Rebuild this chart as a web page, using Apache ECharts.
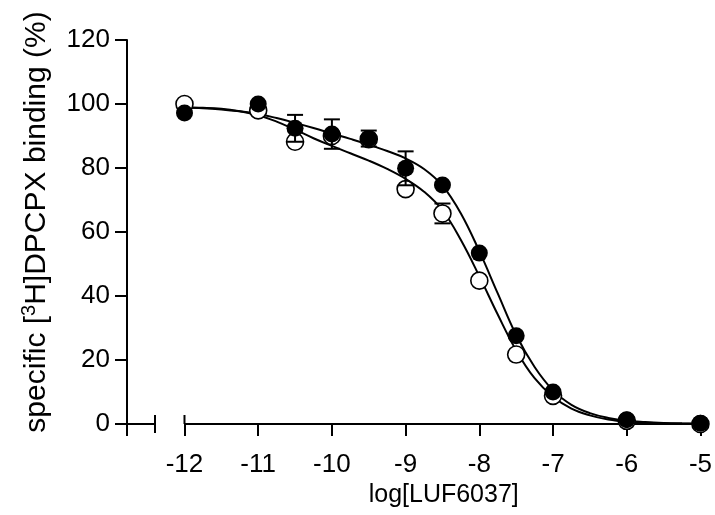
<!DOCTYPE html>
<html>
<head>
<meta charset="utf-8">
<script src="https://cdn.jsdelivr.net/npm/echarts@6/dist/echarts.min.js"></script>
<style>
  html, body { margin: 0; padding: 0; background: #fff; }
  #chart { width: 715px; height: 515px; }
</style>
</head>
<body>
<div id="chart"></div>
<script>
// measured points (log concentration vs % binding)
const doses = [-12, -11, -10.5, -10, -9.5, -9, -8.5, -8, -7.5, -7, -6, -5]
const openVals = [100, 98, 88.2, 90, 89, 73.4, 65.8, 44.8, 21.7, 8.8, 1, 0]
const openErr = [0, 0, 0, 0, 0, 0, 3.1, 0, 0, 0, 0, 0]
const filledVals = [97.2, 100, 92.4, 90.6, 89.2, 79.9, 74.7, 53.4, 27.6, 10, 1.3, 0.2]
const filledErr = [0, 0, 4.2, 4.6, 2.5, 5.3, 0, 0, 0, 0, 0, 0]

// fitted curves, every 0.25 log unit
const fitX = [-12, -11.75, -11.5, -11.25, -11, -10.75, -10.5, -10.25, -10, -9.75, -9.5, -9.25, -9, -8.75,
  -8.5, -8.25, -8, -7.75, -7.5, -7.25, -7, -6.75, -6.5, -6.25, -6, -5.75, -5.5, -5.25, -5]
const fitFilled = [98.9, 98.7, 98.3, 97.7, 96.9, 95.6, 94.1, 92.5, 90.8, 89.1, 87.3, 85.3, 83.0, 79.7,
  74.5, 65.8, 54.0, 40.8, 27.8, 17.8, 10.5, 6.0, 3.4, 1.9, 1.0, 0.6, 0.35, 0.2, 0.1]
const fitOpen = [98.9, 98.8, 98.5, 97.7, 96.5, 94.5, 92.0, 89.3, 86.9, 84.6, 82.3, 79.7, 76.6, 72.6,
  66.8, 57.5, 46.2, 34.2, 23.0, 14.3, 8.5, 4.8, 2.7, 1.4, 0.7, 0.4, 0.2, 0.1, 0.05]

// axis
const xTicks = [-12, -11, -10, -9, -8, -7, -6, -5]
const xMin = -12.78
const xBreak = -12.4
const xMax = -5

const FONT = '"Liberation Sans", Arial, sans-serif'

const chart = echarts.init(document.getElementById('chart'))

function errorSeries(ys, errs, z) {
  const data = doses.map((x, i) => [x, ys[i], errs[i]]).filter(d => d[2] > 0)
  return {
    type: 'custom',
    data: data,
    encode: { x: 0, y: 1 },
    z: z,
    silent: true,
    renderItem(params, api) {
      const x = api.value(0), y = api.value(1), e = api.value(2)
      const top = api.coord([x, y + e])
      const bot = api.coord([x, y - e])
      const hw = 8
      const st = { stroke: '#000', lineWidth: 2 }
      return {
        type: 'group',
        children: [
          { type: 'line', shape: { x1: top[0], y1: top[1], x2: bot[0], y2: bot[1] }, style: st },
          { type: 'line', shape: { x1: top[0] - hw, y1: top[1], x2: top[0] + hw, y2: top[1] }, style: st },
          { type: 'line', shape: { x1: bot[0] - hw, y1: bot[1], x2: bot[0] + hw, y2: bot[1] }, style: st },
        ],
      }
    },
  }
}

function fitSeries(ys) {
  return {
    type: 'line',
    data: fitX.map((x, i) => [x, ys[i]]),
    smooth: 0.4,
    showSymbol: false,
    lineStyle: { color: '#000', width: 2 },
    z: 2,
    silent: true,
  }
}

const option = {
  animation: false,
  backgroundColor: '#fff',
  grid: { left: 127, right: 11, top: 40, bottom: 91 },
  xAxis: {
    type: 'value',
    min: xMin,
    max: xMax,
    name: 'log[LUF6037]',
    nameLocation: 'middle',
    nameGap: 46,
    nameTextStyle: { fontFamily: FONT, fontSize: 25, color: '#000', padding: [0, 0, 0, 60] },
    axisLine: { show: false },
    axisTick: {
      show: true,
      length: 12,
      customValues: [xMin].concat(xTicks),
      lineStyle: { color: '#000', width: 2 },
    },
    axisLabel: {
      customValues: xTicks,
      margin: 28,
      fontFamily: FONT,
      fontSize: 26,
      color: '#000',
    },
    splitLine: { show: false },
  },
  yAxis: {
    type: 'value',
    min: 0,
    max: 120,
    interval: 20,
    name: '{t|specific [}{s|3}{t|H]DPCPX binding (%)}',
    nameLocation: 'middle',
    nameGap: 72,
    nameTextStyle: {
      padding: [0, 0, 0, 20],
      rich: {
        t: { fontFamily: FONT, fontSize: 30, color: '#000', lineHeight: 36 },
        s: { fontFamily: FONT, fontSize: 20, color: '#000', verticalAlign: 'top', lineHeight: 36, padding: [0, 0, 12, 0] },
      },
    },
    axisLine: { show: true, lineStyle: { color: '#000', width: 2 } },
    axisTick: { show: true, length: 12, lineStyle: { color: '#000', width: 2 } },
    axisLabel: { margin: 17, fontFamily: FONT, fontSize: 26, color: '#000' },
    splitLine: { show: false },
  },
  series: [
    fitSeries(fitOpen),
    fitSeries(fitFilled),
    errorSeries(openVals, openErr, 3),
    {
      name: 'open',
      type: 'scatter',
      data: doses.map((x, i) => [x, openVals[i]]),
      symbol: 'circle',
      symbolSize: 17,
      itemStyle: { color: '#fff', borderColor: '#000', borderWidth: 1.6, opacity: 1 },
      z: 4,
    },
    errorSeries(filledVals, filledErr, 5),
    {
      name: 'filled',
      type: 'scatter',
      data: doses.map((x, i) => [x, filledVals[i]]),
      symbol: 'circle',
      symbolSize: 17,
      itemStyle: { color: '#000', opacity: 1 },
      z: 6,
    },
  ],
}

chart.setOption(option)

// broken x axis line: short stub from the y axis, gap, then the main axis
function drawAxisBreak() {
  const px = v => chart.convertToPixel({ gridIndex: 0 }, [v, 0])
  const a = px(xMin), b = px(xBreak), c = px(-12), d = px(xMax)
  const st = { stroke: '#000', lineWidth: 2 }
  chart.setOption({
    graphic: [
      { type: 'line', shape: { x1: a[0], y1: a[1], x2: b[0], y2: b[1] }, style: st, z: 1 },
      { type: 'line', shape: { x1: b[0], y1: b[1] - 9, x2: b[0], y2: b[1] + 9 }, style: st, z: 1 },
      { type: 'line', shape: { x1: c[0], y1: c[1], x2: d[0], y2: d[1] }, style: st, z: 1 },
      { type: 'line', shape: { x1: c[0], y1: c[1] - 9, x2: c[0], y2: c[1] }, style: st, z: 1 },
    ],
  })
}
drawAxisBreak()

window.addEventListener('resize', () => {
  chart.resize()
  drawAxisBreak()
})
</script>
</body>
</html>
